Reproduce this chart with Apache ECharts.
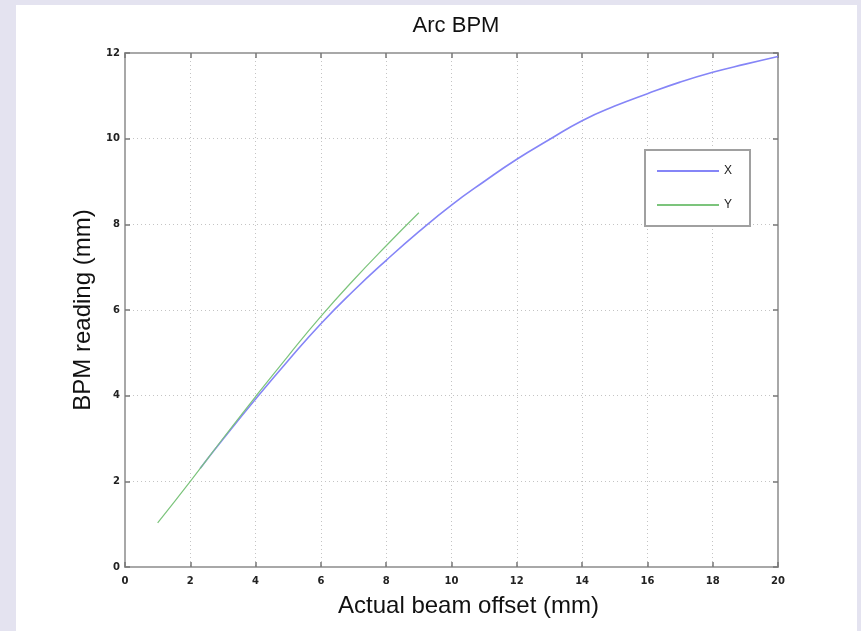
<!DOCTYPE html>
<html>
<head>
<meta charset="utf-8">
<title>Arc BPM</title>
<script src="https://cdn.jsdelivr.net/npm/echarts@6.0.0/dist/echarts.min.js"></script>
<style>
  html, body { margin: 0; padding: 0; }
  body { width: 861px; height: 631px; background: #e4e3f0; position: relative; overflow: hidden; }
  #sheet { position: absolute; left: 16px; top: 5px; width: 841px; height: 626px; background: #fff; }
  #main { position: absolute; left: 0; top: 0; width: 861px; height: 631px; }
</style>
</head>
<body>
<div id="sheet"></div>
<div id="main"></div>
<script>
// actual offset (mm) -> BPM reading (mm)
var xOffset = [2.3, 3, 4, 5, 6, 7, 8, 9, 10, 11, 12, 13, 14, 15, 16, 17, 18, 19, 20];
var xReading = [2.3, 2.98, 3.92, 4.82, 5.68, 6.45, 7.16, 7.83, 8.45, 9.0, 9.52, 9.98, 10.42, 10.76, 11.05, 11.32, 11.55, 11.74, 11.92];
var yOffset = [1, 2, 3, 4, 5, 6, 7, 8, 9];
var yReading = [1.03, 2.0, 3.0, 3.98, 4.93, 5.85, 6.7, 7.5, 8.27];
var xTicks = [0, 2, 4, 6, 8, 10, 12, 14, 16, 18, 20];
var yTicks = [0, 2, 4, 6, 8, 10, 12];

function pairs(a, b) {
  var out = [];
  for (var i = 0; i < a.length; i++) out.push([a[i], b[i]]);
  return out;
}

var dom = document.getElementById('main');
var myChart = echarts.init(dom, null, { renderer: 'canvas' });

var axisFont = 'Liberation Sans, Arial, sans-serif';
function tickFont(m) {
  return { margin: m, fontFamily: 'DejaVu Sans, sans-serif', fontSize: 10, fontWeight: 'bold', color: '#222' };
}
function gridLine() {
  return { show: true, lineStyle: { color: '#c4c4c4', type: [1, 3], width: 1 } };
}
function ticks() {
  return { show: true, inside: true, length: 5, lineStyle: { color: '#777', width: 1.5 } };
}
function edge() {
  return { show: true, onZero: false, lineStyle: { color: '#a8a8a8', width: 2 } };
}

var option = {
  animation: false,
  title: {
    text: 'Arc BPM',
    left: 451, top: 10, textAlign: 'center',
    textStyle: { fontFamily: axisFont, fontSize: 22, fontWeight: 'normal', color: '#111' }
  },
  legend: {
    orient: 'vertical',
    left: 645, top: 150,
    padding: [14, 18, 14, 12],
    itemWidth: 62, itemHeight: 2, itemGap: 20,
    borderColor: '#a0a0a0', borderWidth: 2, borderRadius: 0,
    backgroundColor: '#fff',
    textStyle: { fontFamily: axisFont, fontSize: 12, color: '#222', lineHeight: 14 },
    data: [{ name: 'X', icon: 'rect' }, { name: 'Y', icon: 'rect' }]
  },
  grid: {
    left: 125, right: 83, top: 53, bottom: 64,
    show: true, borderColor: '#a8a8a8', borderWidth: 2, backgroundColor: '#fff',
    outerBoundsMode: 'none'
  },
  xAxis: [
    {
      type: 'value', position: 'bottom', min: xTicks[0], max: xTicks[xTicks.length - 1], interval: 2,
      name: 'Actual beam offset (mm)', nameLocation: 'middle', nameGap: 27,
      nameTextStyle: { fontFamily: axisFont, fontSize: 24, color: '#111', padding: [0, 0, 0, 34] },
      axisLine: edge(), axisTick: ticks(),
      axisLabel: tickFont(9),
      splitLine: gridLine()
    },
    {
      type: 'value', position: 'top', min: xTicks[0], max: xTicks[xTicks.length - 1], interval: 2,
      axisLine: edge(), axisTick: ticks(), axisLabel: { show: false }, splitLine: { show: false }
    }
  ],
  yAxis: [
    {
      type: 'value', position: 'left', min: yTicks[0], max: yTicks[yTicks.length - 1], interval: 2,
      name: 'BPM reading (mm)', nameLocation: 'middle', nameGap: 26,
      nameTextStyle: { fontFamily: axisFont, fontSize: 24, color: '#111' },
      axisLine: edge(), axisTick: ticks(),
      axisLabel: tickFont(5),
      splitLine: gridLine()
    },
    {
      type: 'value', position: 'right', min: yTicks[0], max: yTicks[yTicks.length - 1], interval: 2,
      axisLine: edge(), axisTick: ticks(), axisLabel: { show: false }, splitLine: { show: false }
    }
  ],
  series: [
    {
      name: 'X', type: 'line', data: pairs(xOffset, xReading),
      smooth: true, symbol: 'none',
      lineStyle: { color: '#8585f7', width: 1.6 },
      itemStyle: { color: '#8585f7' }
    },
    {
      name: 'Y', type: 'line', data: pairs(yOffset, yReading),
      smooth: true, symbol: 'none',
      lineStyle: { color: '#7cc47c', width: 1.2 },
      itemStyle: { color: '#7cc47c' }
    }
  ]
};

if (option && typeof option === 'object') {
  myChart.setOption(option);
}
window.addEventListener('resize', myChart.resize);
</script>
</body>
</html>
